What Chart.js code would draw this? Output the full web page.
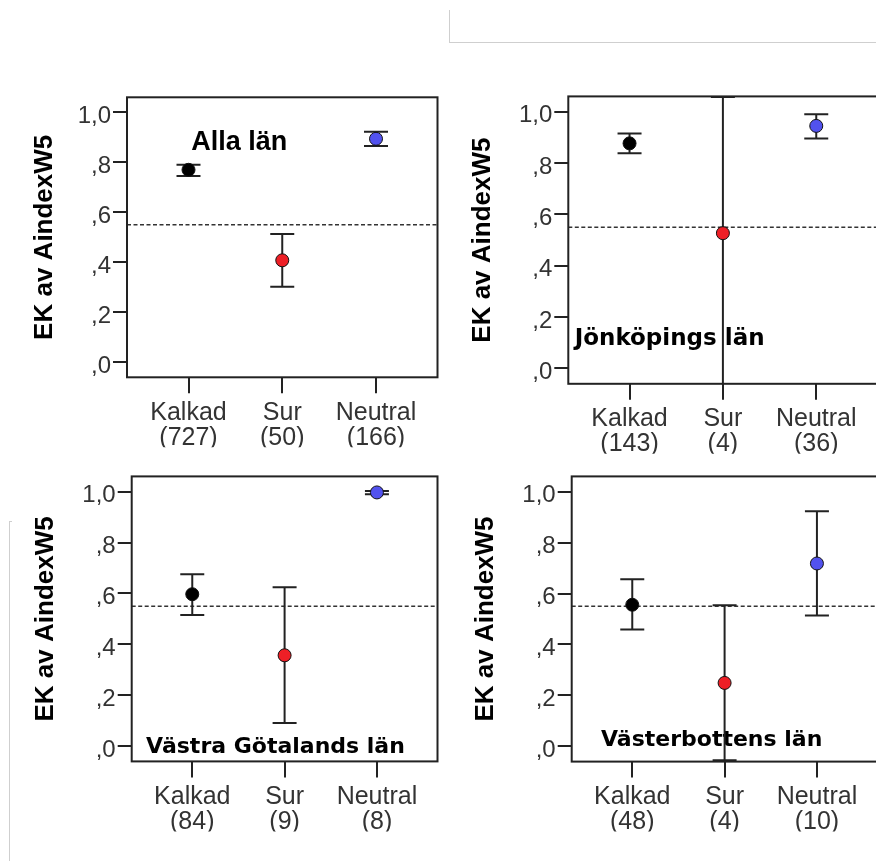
<!DOCTYPE html>
<html>
<head>
<meta charset="utf-8">
<script src="https://cdn.jsdelivr.net/npm/chart.js@4.4.0/dist/chart.umd.min.js"></script>
<style>
    html, body { margin: 0; padding: 0; background: #fff; }
    body { width: 876px; height: 861px; position: relative; overflow: hidden; }
    canvas { position: absolute; }
    .frame-top { position: absolute; left: 449px; top: 10px; width: 440px; height: 32px;
                 border-left: 1px solid #cfcfcf; border-bottom: 1px solid #cfcfcf; }
    .frame-left { position: absolute; left: 9px; top: 521px; width: 2px; height: 345px;
                  border-left: 1px solid #cfcfcf; border-top: 1px solid #cfcfcf; }
</style>
</head>
<body>
<div class="frame-top"></div>
<div class="frame-left"></div>
<canvas id="p0"></canvas>
<canvas id="p1"></canvas>
<canvas id="p2"></canvas>
<canvas id="p3"></canvas>
<script>
// categories and per-panel values (mean with 95% CI)
const categories = ['Kalkad', 'Sur', 'Neutral'];
const panelTitles = ['Alla län', 'Jönköpings län', 'Västra Götalands län', 'Västerbottens län'];
const counts = [[727, 50, 166], [143, 4, 36], [84, 9, 8], [48, 4, 10]];
const means = [[0.770, 0.408, 0.894], [0.877, 0.527, 0.945], [0.597, 0.357, 0.997], [0.556, 0.249, 0.718]];
const lowerCI = [[0.745, 0.302, 0.865], [0.838, -0.300, 0.896], [0.515, 0.091, 0.990], [0.459, -0.055, 0.514]];
const upperCI = [[0.790, 0.513, 0.922], [0.915, 1.058, 0.990], [0.675, 0.624, 1.003], [0.656, 0.554, 0.923]];
const yTicks = [0, 0.2, 0.4, 0.6, 0.8, 1.0];
const refLine = 0.55;
const yTitle = 'EK av AindexW5';

const pointColors = ['#000000', '#ee1f26', '#5252ee'];
const lineColor = '#222';

// page placement of each panel: canvas box, plot area, y-title centre, label spot (data coords)
const layouts = [
    { canvas: [0, 80, 445, 380], area: [127, 97.3, 441, 377.3], titleX: 45,
      label: { x: 0.03, y: 0.849, font: 'bold 27px "Liberation Sans", Arial, sans-serif' } },
    { canvas: [440, 80, 445, 380], area: [568.3, 93.4, 878, 383.8], titleX: 483,
      label: { x: -0.588, y: 0.09, font: 'bold 23px "DejaVu Sans", sans-serif' } },
    { canvas: [0, 460, 445, 401], area: [131.7, 473.9, 441, 761.4], titleX: 45.5,
      label: { x: -0.5, y: -0.028, font: 'bold 22px "DejaVu Sans", sans-serif' } },
    { canvas: [440, 460, 445, 401], area: [571.7, 474, 882, 761.6], titleX: 486,
      label: { x: -0.339, y: 0.0, font: 'bold 22px "DejaVu Sans", sans-serif' } }
];

const Y_AXIS_W = 120;
const X_AXIS_H = 70;

function fmtTick(v) {
    // SPSS style: 1,0  ,8  ,6 ...
    const s = Number(v).toFixed(1).replace('.', ',');
    return s.startsWith('0') ? s.slice(1) : s;
}

const errorBarPlugin = {
    id: 'errorBars',
    beforeDatasetsDraw(chart) {
        const { ctx, chartArea: a, scales: { x, y } } = chart;
        const i = chart.options.panelIndex;
        ctx.save();
        ctx.beginPath();
        ctx.rect(a.left, a.top - 1, a.right - a.left, a.bottom - a.top + 2);
        ctx.clip();

        // reference line
        const yr = y.getPixelForValue(refLine);
        ctx.strokeStyle = '#333';
        ctx.lineWidth = 1.6;
        ctx.setLineDash([4, 2.5]);
        ctx.beginPath();
        ctx.moveTo(a.left, yr);
        ctx.lineTo(a.right, yr);
        ctx.stroke();
        ctx.setLineDash([]);

        // label inside the panel
        const lab = layouts[i].label;
        ctx.fillStyle = '#000';
        ctx.font = lab.font;
        ctx.textAlign = 'left';
        ctx.textBaseline = 'alphabetic';
        ctx.fillText(panelTitles[i], x.getPixelForValue(lab.x), y.getPixelForValue(lab.y));

        // error bars
        ctx.strokeStyle = lineColor;
        ctx.lineWidth = 2;
        categories.forEach((c, j) => {
            const px = x.getPixelForValue(j);
            const yl = y.getPixelForValue(lowerCI[i][j]);
            const yu = y.getPixelForValue(upperCI[i][j]);
            ctx.beginPath();
            ctx.moveTo(px, yl);
            ctx.lineTo(px, yu);
            ctx.moveTo(px - 12, yl);
            ctx.lineTo(px + 12, yl);
            ctx.moveTo(px - 12, yu);
            ctx.lineTo(px + 12, yu);
            ctx.stroke();
        });
        ctx.restore();
    },
    afterDraw(chart) {
        const { ctx, chartArea: a } = chart;
        ctx.save();
        ctx.strokeStyle = lineColor;
        ctx.lineWidth = 2;
        ctx.strokeRect(a.left, a.top, a.right - a.left, a.bottom - a.top);
        ctx.restore();
    }
};

function renderPanel(i) {
    const L = layouts[i];
    const [cl, ct, cw, ch] = L.canvas;
    const [al, at, ar, ab] = L.area;
    const canvas = document.getElementById('p' + i);
    canvas.style.left = cl + 'px';
    canvas.style.top = ct + 'px';
    canvas.width = cw;
    canvas.height = ch;
    canvas.style.width = cw + 'px';
    canvas.style.height = ch + 'px';

    const padLeft = al - cl - Y_AXIS_W;
    const padding = {
        left: padLeft,
        right: cl + cw - ar,
        top: at - ct,
        bottom: ct + ch - ab - X_AXIS_H
    };
    const titlePad = L.titleX - (cl + padLeft) - 13;

    const chart = new Chart(canvas.getContext('2d'), {
        type: 'scatter',
        data: {
            datasets: [{
                data: means[i].map((m, j) => ({ x: j, y: m })),
                pointBackgroundColor: pointColors,
                pointBorderColor: '#111',
                pointBorderWidth: 1,
                pointRadius: 6.5,
                showLine: false
            }]
        },
        options: {
            panelIndex: i,
            responsive: false,
            animation: false,
            events: [],
            layout: { padding: padding },
            plugins: {
                legend: { display: false },
                tooltip: { enabled: false }
            },
            scales: {
                x: {
                    type: 'linear',
                    min: -0.656,
                    max: 2.656,
                    afterBuildTicks: s => { s.ticks = categories.map((c, j) => ({ value: j })); },
                    afterFit: s => { s.height = X_AXIS_H; },
                    border: { display: false },
                    grid: { drawOnChartArea: false, tickLength: 16, color: lineColor, lineWidth: 2 },
                    ticks: {
                        autoSkip: false,
                        maxRotation: 0,
                        padding: 7,
                        color: '#333',
                        font: { family: '"Liberation Sans", Arial, sans-serif', size: 25, lineHeight: 1 },
                        callback: v => [categories[v], '(' + counts[i][v] + ')']
                    }
                },
                y: {
                    min: -0.06,
                    max: 1.06,
                    afterBuildTicks: s => { s.ticks = yTicks.map(v => ({ value: v })); },
                    afterFit: s => { s.width = Y_AXIS_W; },
                    border: { display: false },
                    grid: { drawOnChartArea: false, tickLength: 14, color: lineColor, lineWidth: 2 },
                    ticks: {
                        padding: 2,
                        labelOffset: 4,
                        color: '#333',
                        font: { family: '"Liberation Sans", Arial, sans-serif', size: 24 },
                        callback: v => fmtTick(v)
                    },
                    title: {
                        display: true,
                        text: yTitle,
                        color: '#000',
                        padding: { top: titlePad, bottom: 0 },
                        font: { family: '"Liberation Sans", Arial, sans-serif', size: 26, weight: 'bold', lineHeight: 1 }
                    }
                }
            }
        },
        plugins: [errorBarPlugin]
    });

    // nudge the padding so the plot box lands where the reference has it
    const a = chart.chartArea;
    const dRight = (a.right + cl) - ar;
    const dBottom = (a.bottom + ct) - ab;
    const dTop = (a.top + ct) - at;
    if (Math.abs(dRight) > 0.5 || Math.abs(dBottom) > 0.5 || Math.abs(dTop) > 0.5) {
        const p = chart.options.layout.padding;
        p.right += dRight;
        p.bottom += dBottom;
        p.top -= dTop;
        chart.update();
    }
}

layouts.forEach((l, i) => renderPanel(i));
</script>
</body>
</html>
